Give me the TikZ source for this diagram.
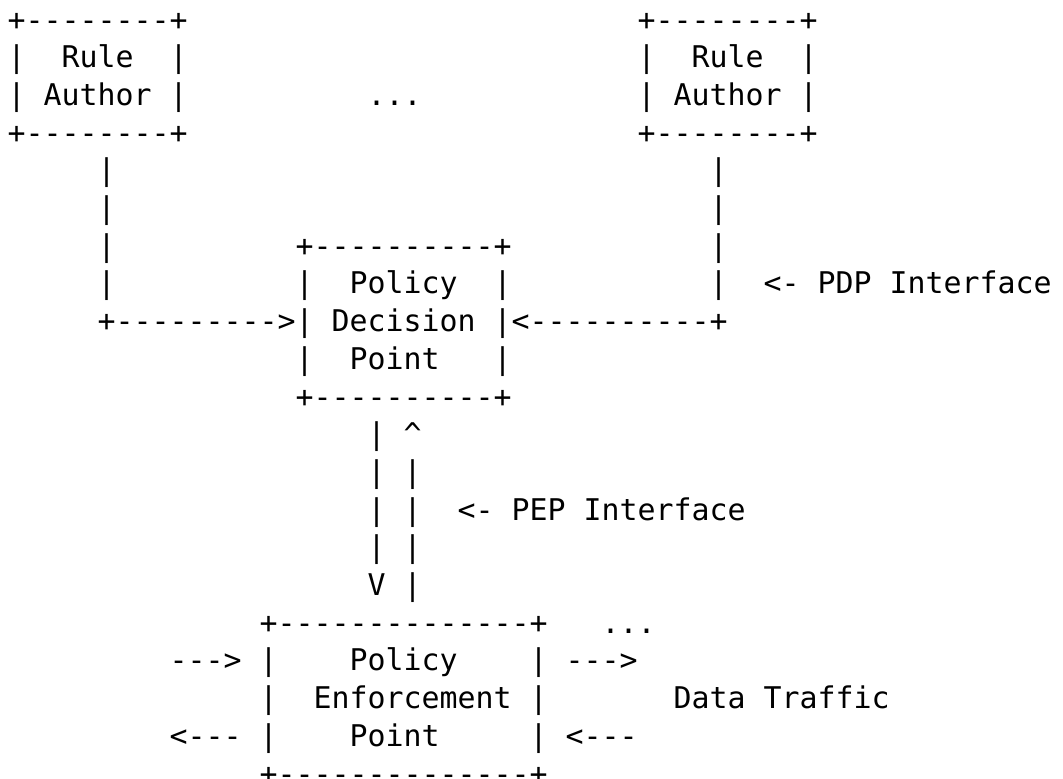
\documentclass[tikz,border=0pt]{standalone}
\usepackage{fontspec}
\newfontfamily\asciifont{DejaVu Sans Mono}
\tikzset{ascii/.style={anchor=base west, inner sep=0pt, outer sep=0pt, text=black,
  font=\asciifont\fontsize{29.9pt}{37.7pt}\selectfont}}
\newcommand\seg[4]{\node[ascii] (#1) at ({7.7+18*#2},{-30-37.7*#3}) {#4};}
\begin{document}
\begin{tikzpicture}[x=1pt,y=1pt]
\fill[white] (0,0) rectangle (1063,-779);
\useasboundingbox (0,0) rectangle (1063,-779);
% Rule author boxes
\seg{raAtop}{0}{0}{+--------+}
\seg{raArule}{0}{1}{|~~Rule~~|}
\seg{raAauthor}{0}{2}{|~Author~|}
\seg{raAbot}{0}{3}{+--------+}
\seg{dotsTop}{20}{2}{...}
\seg{raBtop}{35}{0}{+--------+}
\seg{raBrule}{35}{1}{|~~Rule~~|}
\seg{raBauthor}{35}{2}{|~Author~|}
\seg{raBbot}{35}{3}{+--------+}
% vertical links from rule authors
\seg{lA4}{5}{4}{|}
\seg{lA5}{5}{5}{|}
\seg{lA6}{5}{6}{|}
\seg{lA7}{5}{7}{|}
\seg{lB4}{39}{4}{|}
\seg{lB5}{39}{5}{|}
\seg{lB6}{39}{6}{|}
\seg{lB7}{39}{7}{|}
% policy decision point
\seg{pdpTop}{16}{6}{+----------+}
\seg{pdpPolicy}{16}{7}{|~~Policy~~|}
\seg{pdpIf}{42}{7}{<- PDP Interface}
\seg{pdpDecision}{5}{8}{+--------->|~Decision~|<----------+}
\seg{pdpPoint}{16}{9}{|~~Point~~~|}
\seg{pdpBot}{16}{10}{+----------+}
% PEP interface
\seg{pep11}{20}{11}{|~\textasciicircum}
\seg{pep12}{20}{12}{|~|}
\seg{pep13}{20}{13}{|~|}
\seg{pepIf}{25}{13}{<- PEP Interface}
\seg{pep14}{20}{14}{|~|}
\seg{pep15}{20}{15}{V~|}
% policy enforcement point
\seg{pepTop}{14}{16}{+--------------+}
\seg{dotsBot}{33}{16}{...}
\seg{pepPolicy}{9}{17}{--->~|~~~~Policy~~~~|~--->}
\seg{pepEnf}{14}{18}{|~~Enforcement~|}
\seg{traffic}{37}{18}{Data Traffic}
\seg{pepPoint}{9}{19}{<---~|~~~~Point~~~~~|~<---}
\seg{pepBot}{14}{20}{+--------------+}
\end{tikzpicture}
\end{document}
